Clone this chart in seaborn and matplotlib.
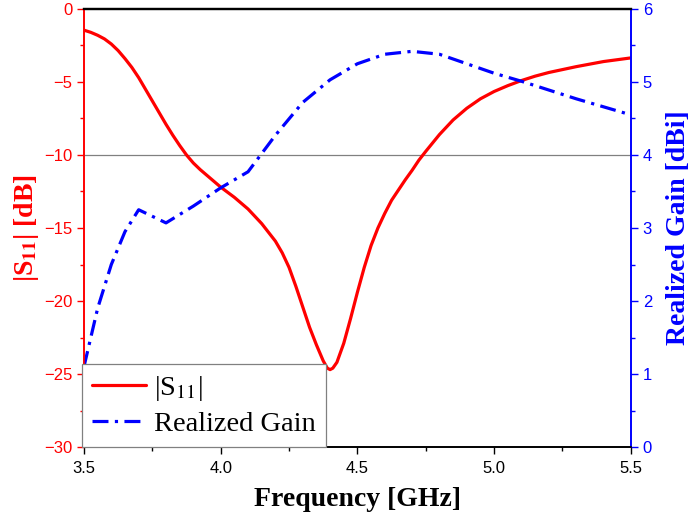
import matplotlib
matplotlib.use('Agg')
import matplotlib.pyplot as plt
import seaborn as sns
import pandas as pd
from matplotlib.ticker import MultipleLocator

# |S11|
freq_s11 = [3.50, 3.525, 3.55, 3.575, 3.60, 3.625, 3.65, 3.675, 3.70, 3.725,
            3.75, 3.775, 3.80, 3.825, 3.85, 3.875, 3.90, 3.925, 3.95, 3.975,
            4.00, 4.05, 4.10, 4.15, 4.20, 4.225, 4.25, 4.275, 4.30, 4.325,
            4.35, 4.375, 4.39, 4.40, 4.41, 4.425, 4.45, 4.475, 4.50, 4.525,
            4.55, 4.575, 4.60, 4.625, 4.65, 4.675, 4.70, 4.725, 4.75, 4.80,
            4.85, 4.90, 4.95, 5.00, 5.05, 5.10, 5.15, 5.20, 5.30, 5.40, 5.50]
s11_db = [-1.45, -1.6, -1.8, -2.05, -2.4, -2.85, -3.4, -4.0, -4.7, -5.5,
          -6.3, -7.1, -7.9, -8.65, -9.35, -10.0, -10.55, -11.0, -11.4, -11.8,
          -12.2, -12.9, -13.7, -14.7, -15.9, -16.7, -17.7, -19.0, -20.4, -21.8,
          -23.0, -24.1, -24.6, -24.7, -24.6, -24.2, -22.9, -21.2, -19.4, -17.7,
          -16.2, -15.0, -14.0, -13.1, -12.4, -11.7, -11.05, -10.35, -9.75, -8.6,
          -7.6, -6.8, -6.15, -5.65, -5.25, -4.9, -4.6, -4.35, -3.95, -3.6, -3.35]

# realized gain
freq_gain = [3.50, 3.55, 3.60, 3.65, 3.70, 3.80, 3.90, 4.00, 4.10, 4.20,
             4.30, 4.40, 4.50, 4.60, 4.70, 4.80, 4.90, 5.00, 5.10, 5.20,
             5.30, 5.40, 5.50]
gain_dbi = [1.1, 1.9, 2.5, 2.95, 3.25, 3.07, 3.3, 3.55, 3.77, 4.27,
            4.72, 5.03, 5.25, 5.38, 5.42, 5.38, 5.25, 5.12, 5.01, 4.89,
            4.77, 4.66, 4.55]

df_s11 = pd.DataFrame({'freq': freq_s11, 's11': s11_db})
df_gain = pd.DataFrame({'freq': freq_gain, 'gain': gain_dbi})

sns.set_style('ticks')
plt.rcParams['font.family'] = ['Liberation Sans', 'DejaVu Sans']
plt.rcParams['mathtext.fontset'] = 'stix'

fig = plt.figure(figsize=(6.94, 5.29), dpi=100)
ax = fig.add_axes([0.121, 0.155, 0.788, 0.828])
ax2 = ax.twinx()

ax.axhline(-10, color='gray', lw=0.9, zorder=1)
sns.lineplot(data=df_s11, x='freq', y='s11', ax=ax, color='red', lw=2.3,
             label=r'|S$_{\mathrm{11}}$|', legend=False)
sns.lineplot(data=df_gain, x='freq', y='gain', ax=ax2, color='blue', lw=2.3,
             linestyle=(0, (5, 2, 1, 2)), label='Realized Gain', legend=False)

ax.set_xlim(3.5, 5.5)
ax.set_ylim(-30, 0)
ax2.set_ylim(0, 6)
ax.xaxis.set_major_locator(MultipleLocator(0.5))
ax.xaxis.set_minor_locator(MultipleLocator(0.25))
ax.yaxis.set_major_locator(MultipleLocator(5))
ax.yaxis.set_minor_locator(MultipleLocator(2.5))
ax2.yaxis.set_major_locator(MultipleLocator(1))
ax2.yaxis.set_minor_locator(MultipleLocator(0.5))
ax.set_xticklabels([f'{v:.1f}' for v in ax.get_xticks()])

ax.tick_params(axis='x', which='both', direction='out', colors='black', labelsize=12, top=False, pad=5)
ax.tick_params(axis='x', which='major', length=5, width=1)
ax.tick_params(axis='x', which='minor', length=3, width=1)
ax.tick_params(axis='y', which='both', direction='out', colors='red', labelsize=12)
ax.tick_params(axis='y', which='major', length=5, width=1)
ax.tick_params(axis='y', which='minor', length=3, width=1)
ax2.tick_params(axis='y', which='both', direction='out', colors='blue', labelsize=12)
ax2.tick_params(axis='y', which='major', length=5, width=1)
ax2.tick_params(axis='y', which='minor', length=3, width=1)

for a in (ax, ax2):
    a.spines['top'].set_color('black')
    a.spines['top'].set_linewidth(1.6)
    a.spines['bottom'].set_color('black')
    a.spines['bottom'].set_linewidth(1.2)
    a.spines['left'].set_color('red')
    a.spines['right'].set_color('blue')
    a.spines['left'].set_linewidth(1.2)
    a.spines['right'].set_linewidth(1.2)

ax.set_xlabel('Frequency [GHz]', fontfamily='Liberation Serif', fontweight='bold',
              fontsize=20, color='black', labelpad=8)
ax.set_ylabel(r'|S$_{\mathbf{11}}$| [dB]', fontfamily='Liberation Serif', fontweight='bold',
              fontsize=20, color='red', labelpad=2)
ax2.set_ylabel('Realized Gain [dBi]', fontfamily='Liberation Serif', fontweight='bold',
               fontsize=20, color='blue', labelpad=10)

h1, l1 = ax.get_legend_handles_labels()
h2, l2 = ax2.get_legend_handles_labels()
leg = ax2.legend(h1 + h2, l1 + l2, loc='lower left', bbox_to_anchor=(-0.004, 0.0),
                 borderaxespad=0, fancybox=False, framealpha=1, edgecolor='gray',
                 prop={'family': 'Liberation Serif', 'size': 20.5}, labelcolor='black',
                 handlelength=1.9, handletextpad=0.3, borderpad=0.35, labelspacing=0.3)
leg.get_frame().set_linewidth(0.9)
leg.set_zorder(10)

fig.savefig('out.png', dpi=100)
